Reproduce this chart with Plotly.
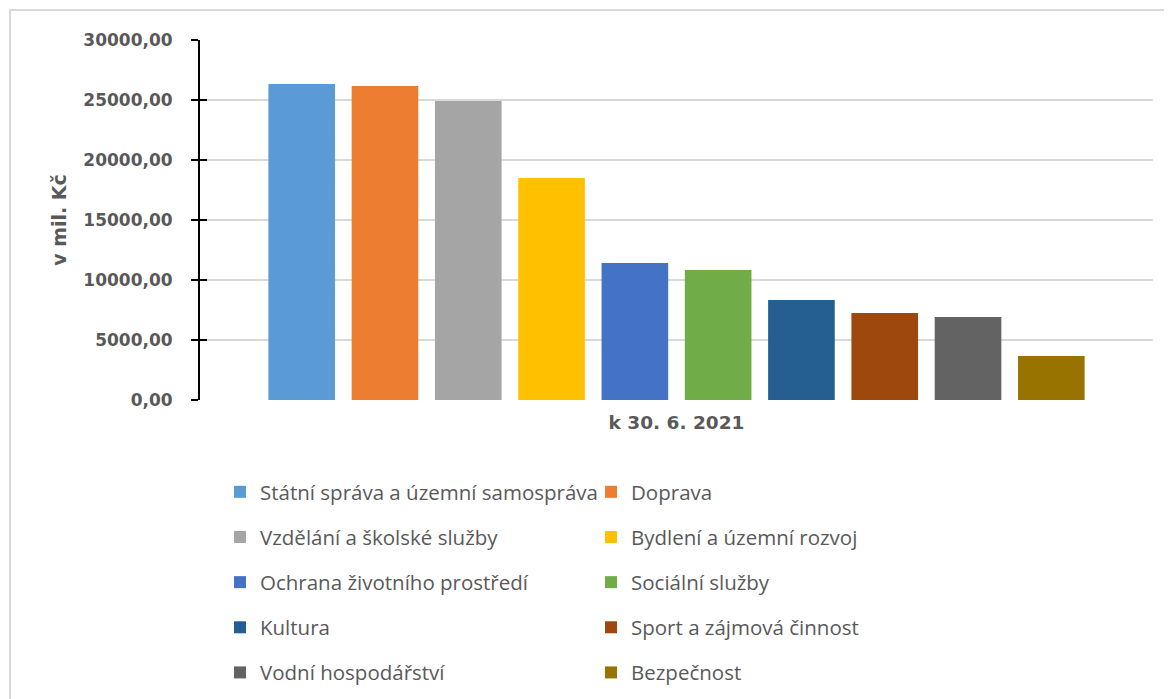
import plotly.graph_objects as go

category = ["k 30. 6. 2021"]
series_names = [
    "Státní správa a územní samospráva",
    "Doprava",
    "Vzdělání a školské služby",
    "Bydlení a územní rozvoj",
    "Ochrana životního prostředí",
    "Sociální služby",
    "Kultura",
    "Sport a zájmová činnost",
    "Vodní hospodářství",
    "Bezpečnost",
]
values = [26330, 26160, 24910, 18500, 11410, 10840, 8330, 7250, 6920, 3670]
colors = ["#5B9BD5", "#ED7D31", "#A5A5A5", "#FFC000", "#4472C4",
          "#70AD47", "#255E91", "#9E480E", "#636363", "#997300"]
y_ticks = [0, 5000, 10000, 15000, 20000, 25000, 30000]

AXFONT = "DejaVu Sans"
LGFONT = "Open Sans"
TXT = "#595959"

fig = go.Figure()
for i, (name, v, c) in enumerate(zip(series_names, values, colors)):
    fig.add_trace(go.Bar(
        x=category, y=[v], name=name, marker_color=c, marker_line_width=0,
        legend="legend" if i % 2 == 0 else "legend2",
        legendgroup=f"g{i}", hoverinfo="y+name",
    ))
# invisible helper trace so the secondary (inside-tick) axis is drawn
fig.add_trace(go.Scatter(x=category, y=[None], yaxis="y2", mode="markers",
                         showlegend=False, hoverinfo="skip"))

OFF = 8  # page offset of the plot div
W, H = 1164, 691
L, R, T, B = 192, 19, 32, 299
pw, ph = W - L - R, H - T - B

def px(x):
    return (x - OFF - L) / pw

def py(y):
    return (H - B - (y - OFF)) / ph

legend_common = dict(
    orientation="v", xanchor="left", yanchor="top",
    font=dict(family=LGFONT, size=20.5, color=TXT),
    tracegroupgap=15.5, bgcolor="rgba(0,0,0,0)", borderwidth=0,
    itemclick=False, itemdoubleclick=False, traceorder="grouped",
)

fig.update_layout(
    width=W, height=H,
    margin=dict(l=L, r=R, t=T, b=B, autoexpand=False),
    paper_bgcolor="white", plot_bgcolor="white",
    separators=", ",
    barmode="group", bargap=0.126, bargroupgap=0.2,
    font=dict(family=AXFONT, color=TXT),
    showlegend=True,
    legend=dict(x=px(220), y=py(472), **legend_common),
    legend2=dict(x=px(591), y=py(472), **legend_common),
    xaxis=dict(
        showline=False, showgrid=False, ticks="",
        tickfont=dict(family=AXFONT, size=18.5, color=TXT, weight="bold"),
        ticklabelstandoff=9,
    ),
    yaxis=dict(
        range=[0, 30000], tickvals=y_ticks, tickformat=".2f",
        showgrid=True, gridcolor="#D9D9D9", gridwidth=2,
        zeroline=False,
        showline=True, linecolor="black", linewidth=2,
        ticks="outside", ticklen=7, tickwidth=2, tickcolor="black",
        tickfont=dict(family=AXFONT, size=17, color=TXT, weight="bold"),
        ticklabelstandoff=15,
        title=dict(text="v mil. Kč", standoff=12,
                   font=dict(family=AXFONT, size=19, color=TXT, weight="bold")),
    ),
    yaxis2=dict(
        overlaying="y", range=[0, 30000], tickvals=y_ticks,
        showgrid=False, zeroline=False, showticklabels=False,
        ticks="inside", ticklen=7, tickwidth=2, tickcolor="black",
        showline=False, side="left",
    ),
    shapes=[dict(
        type="rect", xref="paper", yref="paper",
        x0=px(10), x1=px(1190), y0=py(720), y1=py(10),
        line=dict(color="#D9D9D9", width=2), fillcolor="rgba(0,0,0,0)",
        layer="below",
    )],
)

fig.write_html("out.html")
